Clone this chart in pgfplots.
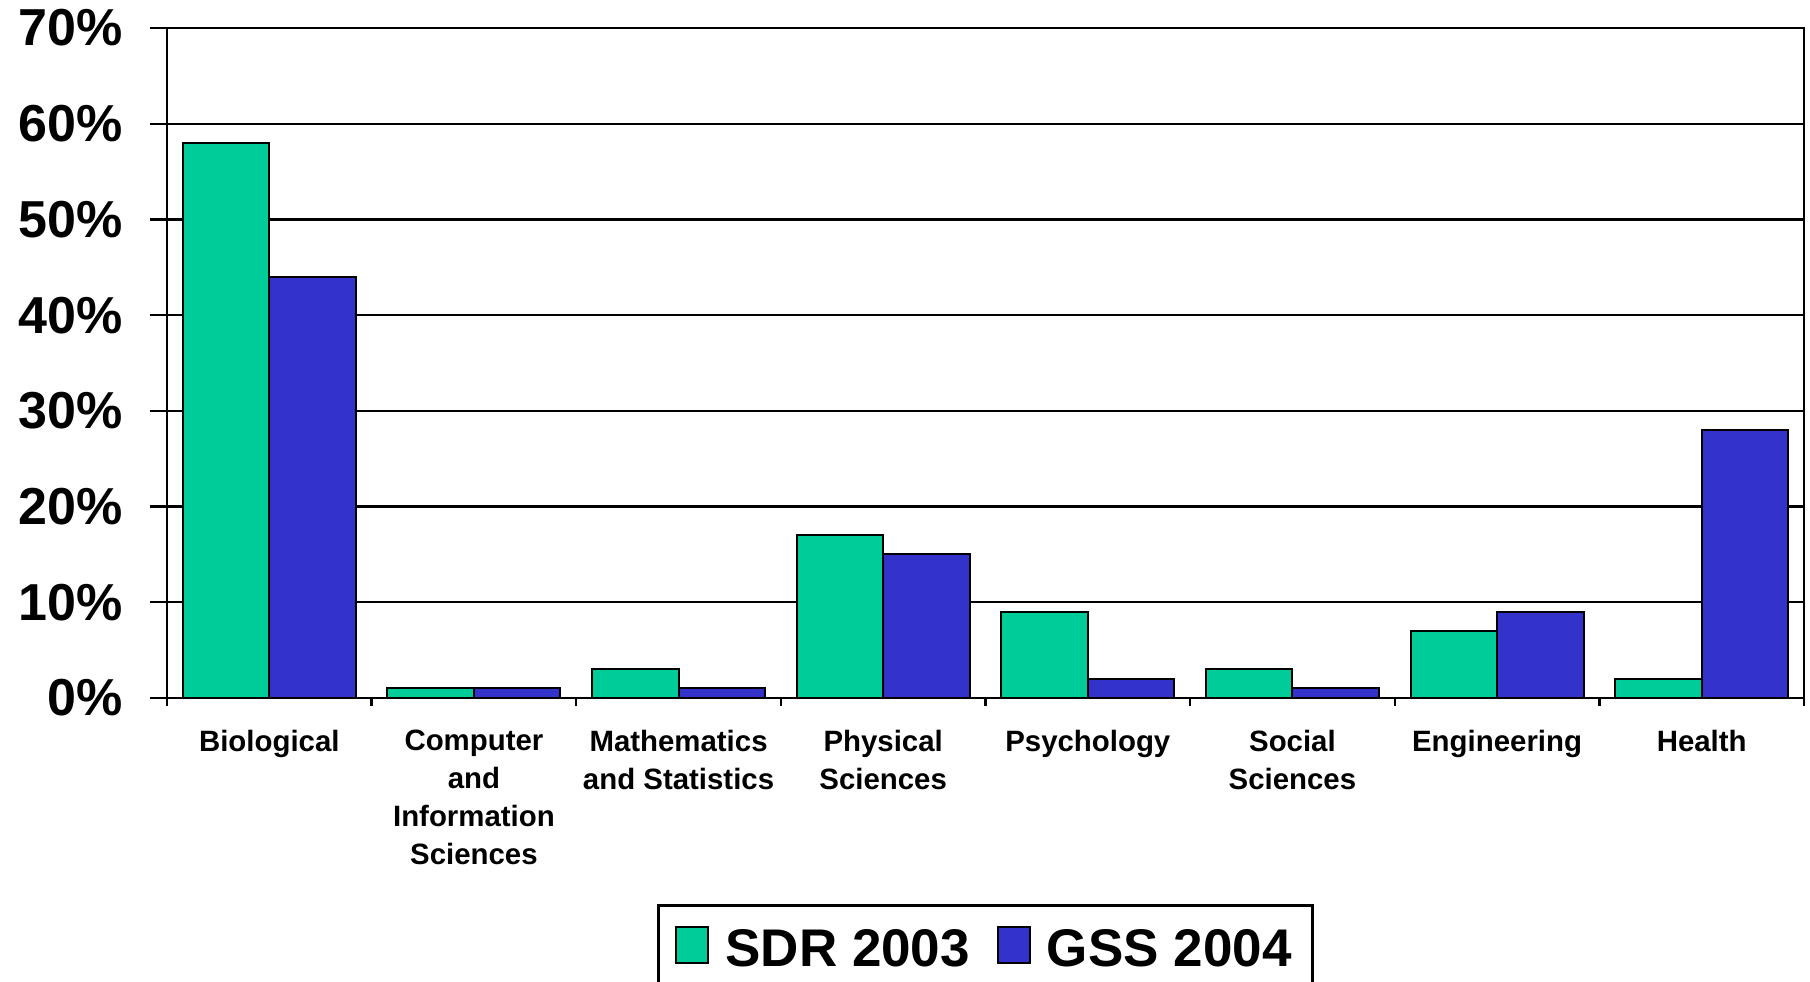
\documentclass[border=0pt]{standalone}
\usepackage{pgfplots}
\pgfplotsset{compat=1.18}
\usepackage{fontspec}
\setmainfont{Liberation Sans}

\definecolor{sdrgreen}{RGB}{0,204,153}
\definecolor{gssblue}{RGB}{51,51,204}

\begin{document}
\begin{tikzpicture}
\begin{axis}[
    name=ax,
    scale only axis,
    width=818.5pt,
    height=335pt,
    xmin=-0.5, xmax=7.5,
    ymin=0, ymax=70,
    axis line style={line width=1.2pt},
    xtick pos=bottom,
    ytick pos=left,
    % y ticks: outside, percent labels
    ytick={0,10,...,70},
    yticklabels={0\%,10\%,20\%,30\%,40\%,50\%,60\%,70\%},
    yticklabel style={font=\bfseries\fontsize{26}{31}\selectfont, xshift=-10pt},
    major tick length=8.5pt,
    tick align=outside,
    ytick style={line width=1.2pt, black},
    ymajorgrids=true,
    major grid style={line width=1.2pt, black},
    % x: labels at centres, ticks at the boundaries
    xtick={0,...,7},
    xticklabels={Biological,
      Computer\\and\\Information\\Sciences,
      Mathematics\\and Statistics,
      Physical\\Sciences,
      Psychology,
      Social\\Sciences,
      Engineering,
      Health},
    xticklabel style={font=\bfseries\fontsize{14.7}{19}\selectfont, align=center, yshift=-4pt},
    major x tick style={draw=none},
    minor xtick={-0.5,0.5,...,7.5},
    minor tick length=4pt,
    minor x tick style={line width=1.2pt, black},
    % bars
    every axis plot/.append style={
      ybar,
      bar width=0.423,
      draw=black,
      line width=1pt
    },
    legend columns=-1,
    legend style={
      at={(0.5,-0.3075)}, anchor=north,
      draw=black, line width=1.5pt,
      font=\bfseries\fontsize{26.5}{32}\selectfont,
      inner xsep=8.5pt, inner ysep=10pt,
      /tikz/every odd column/.append style={column sep=6pt},
      /tikz/every even column/.append style={column sep=11.5pt}
    },
    legend image code/.code={\draw[#1, line width=1pt] (0pt,-6.6pt) rectangle (16pt,11.4pt);}
]

  \addplot[fill=sdrgreen, bar shift=-0.2115] coordinates {
    (0,58) (1,1) (2,3) (3,17) (4,9) (5,3) (6,7) (7,2)};
  \addplot[fill=gssblue, bar shift=0.2115] coordinates {
    (0,44) (1,1) (2,1) (3,15) (4,2) (5,1) (6,9) (7,28)};
  \legend{SDR 2003,GSS 2004}

\end{axis}
\pgfresetboundingbox
\path[use as bounding box] ([xshift=-83.5pt,yshift=-142pt]ax.south west) rectangle ([xshift=3pt,yshift=14pt]ax.north east);
\end{tikzpicture}
\end{document}
